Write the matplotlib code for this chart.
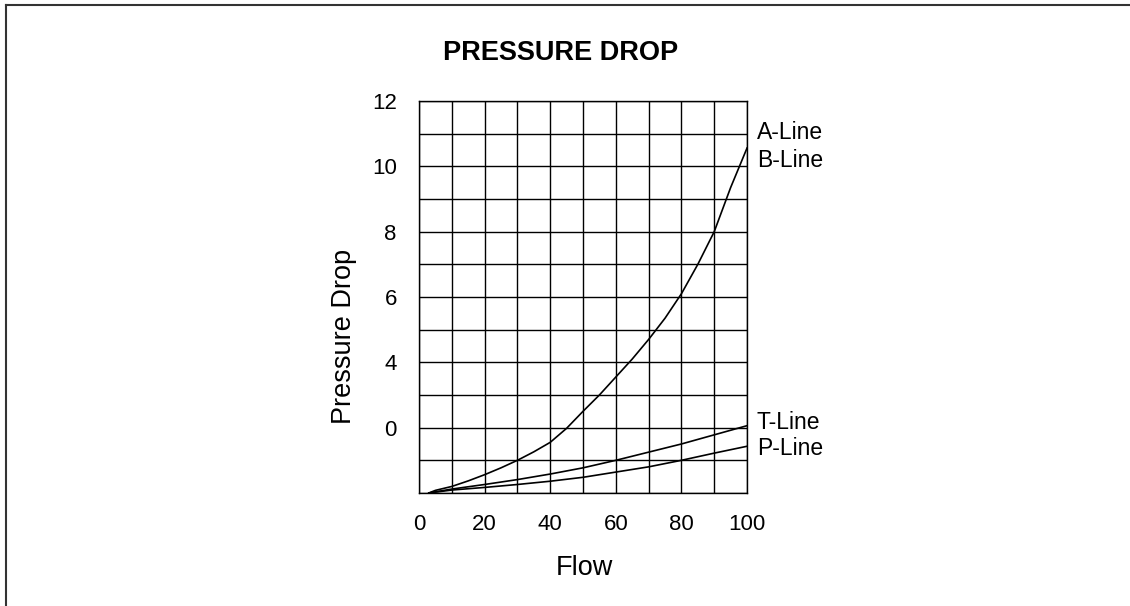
import matplotlib.pyplot as plt
from matplotlib.lines import Line2D

plt.rcParams['font.family'] = ['Liberation Sans', 'DejaVu Sans']

# Curves (flow vs pressure drop, in grid units)
ab_flow = [3, 5, 10, 15, 20, 25, 30, 35, 40, 45, 50, 55, 60, 65, 70, 75, 80, 85, 90, 95, 100]
ab_drop = [0, 0.08, 0.2, 0.37, 0.56, 0.77, 1.0, 1.26, 1.55, 1.98, 2.5, 3.0, 3.55, 4.1, 4.7, 5.35, 6.1, 7.0, 8.0, 9.35, 10.56]

tp_flow = [3, 10, 20, 30, 40, 50, 60, 70, 80, 90, 100]
t_drop = [0, 0.12, 0.26, 0.41, 0.58, 0.77, 1.0, 1.25, 1.5, 1.78, 2.06]
p_drop = [0, 0.09, 0.17, 0.26, 0.36, 0.48, 0.64, 0.8, 1.0, 1.22, 1.43]

# Tick labels as printed (the "0" sits on the second grid line)
x_ticks = [0, 10, 20, 30, 40, 50, 60, 70, 80, 90, 100]
x_labels = ['0', '', '20', '', '40', '', '60', '', '80', '', '100']
y_ticks = list(range(0, 13))
y_labels = ['', '', '0', '', '4', '', '6', '', '8', '', '10', '', '12']

line_labels = ['A-Line', 'B-Line', 'T-Line', 'P-Line']
label_y = [11.04, 10.18, 2.17, 1.35]

fig = plt.figure(figsize=(11.3, 6.06), dpi=100)
ax = fig.add_axes([0.3708, 0.1865, 0.2903, 0.6469])

ax.plot(ab_flow, ab_drop, color='black', lw=1.2, solid_joinstyle='round')
ax.plot(tp_flow, t_drop, color='black', lw=1.2, solid_joinstyle='round')
ax.plot(tp_flow, p_drop, color='black', lw=1.2, solid_joinstyle='round')

ax.set_xlim(0, 100)
ax.set_ylim(0, 12)
ax.set_xticks(x_ticks)
ax.set_xticklabels(x_labels)
ax.set_yticks(y_ticks)
ax.set_yticklabels(y_labels)
ax.tick_params(length=0, labelsize=16, colors='black')
ax.tick_params(axis='x', pad=15)
ax.tick_params(axis='y', pad=16)
ax.grid(True, color='black', lw=1.0)
for s in ax.spines.values():
    s.set_linewidth(1.0)

for txt, yy in zip(line_labels, label_y):
    ax.text(103, yy, txt, fontsize=16.5, va='center', ha='left')

fig.text(0.4965, 0.9125, 'PRESSURE DROP', fontsize=19.5, fontweight='bold',
         ha='center', va='center')
fig.text(0.304, 0.4455, 'Pressure Drop', fontsize=19.5, rotation=90,
         ha='center', va='center')
fig.text(0.5168, 0.0627, 'Flow', fontsize=19.5, ha='center', va='center')

# page frame (top and left edges only)
fig.add_artist(Line2D([0.0053, 1.0], [0.9917, 0.9917], color='#333333', lw=1.5))
fig.add_artist(Line2D([0.0053, 0.0053], [0.0, 0.9917], color='#333333', lw=1.5))

fig.savefig('out.png', dpi=100)
